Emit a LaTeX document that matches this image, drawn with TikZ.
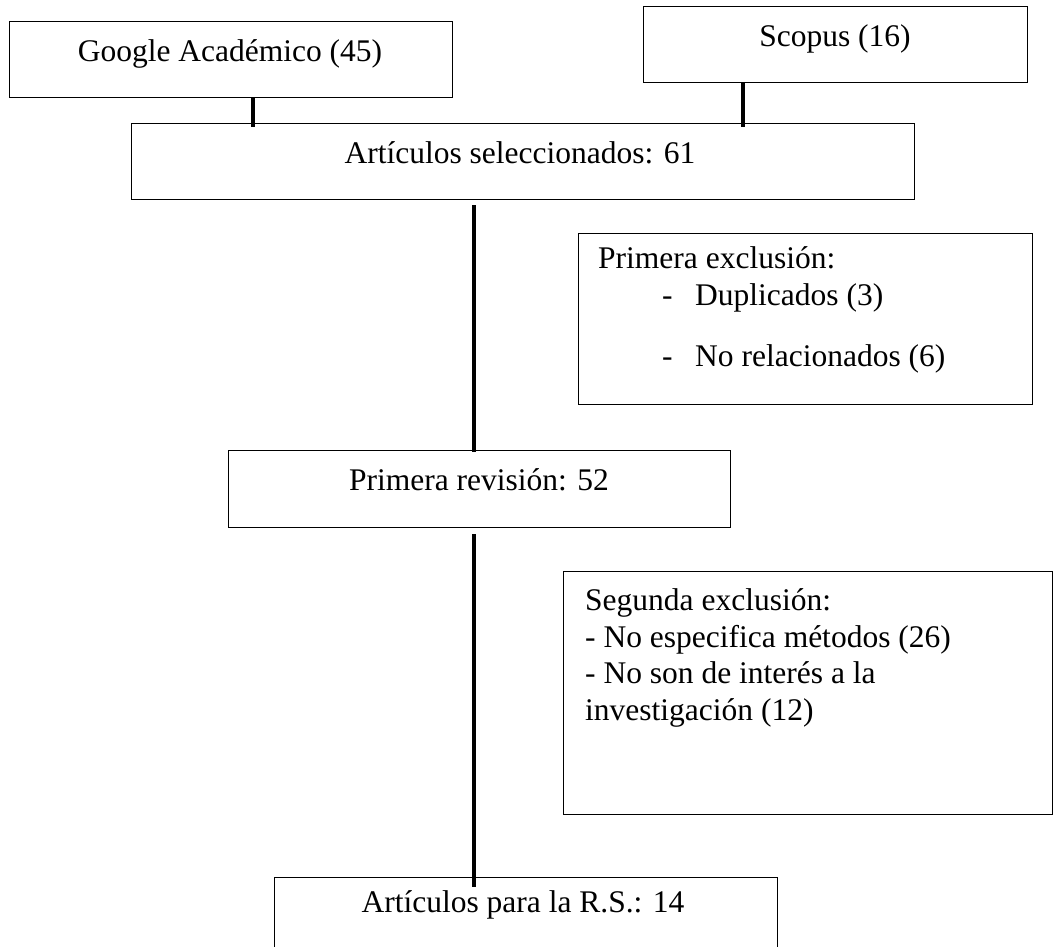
\documentclass[tikz,border=0pt]{standalone}
\usepackage{fontspec}
\setmainfont{Liberation Serif}
\usetikzlibrary{calc}
\begin{document}
\begin{tikzpicture}[x=1pt,y=-1pt,
  box/.style={draw=black, line width=1.2pt, rectangle, inner sep=0pt, anchor=north west},
  txt/.style={font=\fontsize{31.5}{36.5}\selectfont, inner sep=0pt},
  conn/.style={line width=4pt}]
\useasboundingbox (0,0) rectangle (1057,947);
\clip (0,0) rectangle (1057,947);
% boxes
\node[box, minimum width=443pt, minimum height=76pt] (g) at (9,21) {};
\node[box, minimum width=384pt, minimum height=76pt] (s) at (643,6) {};
\node[box, minimum width=783pt, minimum height=76pt] (a) at (131,123) {};
\node[box, minimum width=454pt, minimum height=171pt] (pe) at (578,233) {};
\node[box, minimum width=502pt, minimum height=77pt] (pr) at (228,450) {};
\node[box, minimum width=489pt, minimum height=243pt] (se) at (563,571) {};
\node[box, minimum width=503pt, minimum height=90pt] (f) at (274,877) {};
% texts
\node[txt, anchor=base] (gt) at (230,62) {Google Académico (45)};
\node[txt, anchor=base] (st) at (835,47) {Scopus (16)};
\node[txt, anchor=base] (at) at (520,163) {Artículos seleccionados: 61};
\node[txt, anchor=base west] (pe1) at (598,268) {Primera exclusión:};
\node[txt, anchor=base west] (pe2d) at (662,305) {-};
\node[txt, anchor=base west] (pe2) at (695,305) {Duplicados (3)};
\node[txt, anchor=base west] (pe3d) at (662,366) {-};
\node[txt, anchor=base west] (pe3) at (695,366) {No relacionados (6)};
\node[txt, anchor=base] (prt) at (479,490) {Primera revisión: 52};
\node[txt, anchor=base west] (se1) at (585,610) {Segunda exclusión:};
\node[txt, anchor=base west] (se2) at (585,647) {- No especifica métodos (26)};
\node[txt, anchor=base west] (se3) at (585,683) {- No son de interés a la};
\node[txt, anchor=base west] (se4) at (585,720) {investigación (12)};
\node[txt, anchor=base] (ft) at (523,912) {Artículos para la R.S.: 14};
% connectors
\draw[conn] ($(g.south west)+(244,0)$) -- ($(a.north west)+(122,4)$);
\draw[conn] ($(s.south west)+(100,0)$) -- ($(a.north west)+(612,4)$);
\draw[conn] ($(a.south west)+(343,5)$) -- ($(pr.north west)+(246,2)$);
\draw[conn] ($(pr.south west)+(246,6)$) -- ($(f.north west)+(200,10)$);
\end{tikzpicture}
\end{document}
